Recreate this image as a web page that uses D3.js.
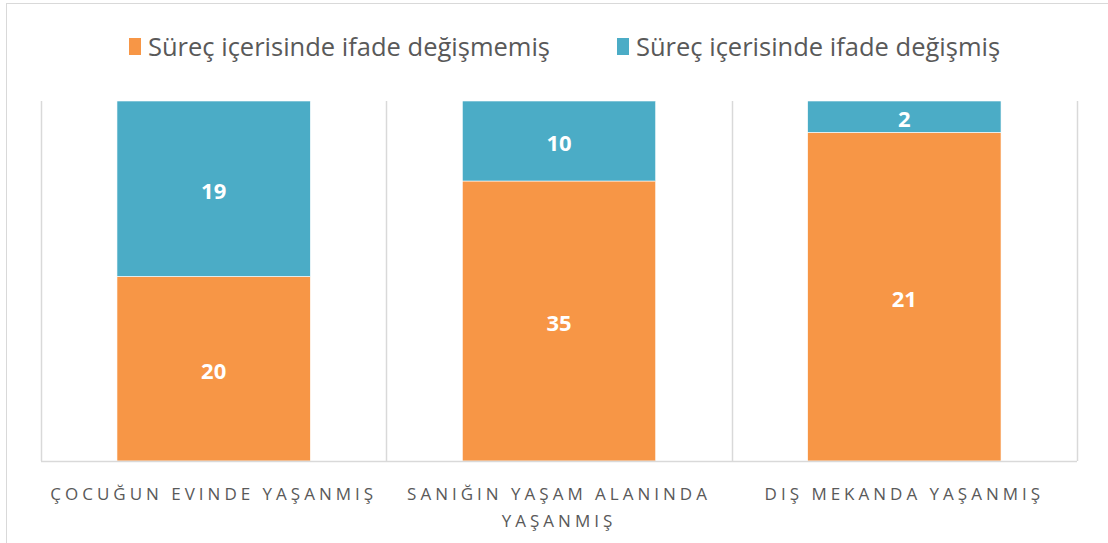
<!DOCTYPE html>
<html>
<head>
<meta charset="utf-8">
<script src="https://cdn.jsdelivr.net/npm/d3@7"></script>
<style>
  body { margin: 0; background: #fff; }
  svg text { font-family: "Open Sans", "Noto Sans", sans-serif; }
</style>
</head>
<body>
<svg id="chart" width="1108" height="543"></svg>
<script>
// data
var categories = ["ÇOCUĞUN EVINDE YAŞANMIŞ", "SANIĞIN YAŞAM ALANINDA YAŞANMIŞ", "DIŞ MEKANDA YAŞANMIŞ"];
var labelLines = [["ÇOCUĞUN EVINDE YAŞANMIŞ"], ["SANIĞIN YAŞAM ALANINDA", "YAŞANMIŞ"], ["DIŞ MEKANDA YAŞANMIŞ"]];
var seriesNames = ["Süreç içerisinde ifade değişmemiş", "Süreç içerisinde ifade değişmiş"];
var unchanged = [20, 35, 21];
var changed = [19, 10, 2];
var colors = ["#F79646", "#4BACC6"];

var svg = d3.select("#chart");

// outer chart border (partially cropped in the reference)
svg.append("rect")
  .attr("x", 6.5).attr("y", 3.5)
  .attr("width", 1200).attr("height", 600)
  .attr("fill", "none").attr("stroke", "#d9d9d9");

var margin = {left: 41, right: 31, top: 101, bottom: 82};
var width = 1108 - margin.left - margin.right,
    height = 543 - margin.top - margin.bottom;

var g = svg.append("g").attr("transform", "translate(" + margin.left + "," + margin.top + ")");

var x = d3.scaleBand().domain(categories).range([0, width]).paddingInner(0).paddingOuter(0);
var y = d3.scaleLinear().domain([0, 1]).range([height, 0]);

var rows = categories.map(function(c, i) {
  var tot = unchanged[i] + changed[i];
  return {cat: c, a: unchanged[i] / tot, b: changed[i] / tot, va: unchanged[i], vb: changed[i]};
});

// vertical category separators
var seps = d3.range(categories.length + 1);
g.selectAll(".sep").data(seps).enter().append("line")
  .attr("x1", function(d) { return Math.round(d * x.step()) + 0.5; })
  .attr("x2", function(d) { return Math.round(d * x.step()) + 0.5; })
  .attr("y1", 0).attr("y2", height)
  .attr("stroke", "#d9d9d9").attr("stroke-width", 1.5);

var bw = x.bandwidth() * 0.56;
var off = (x.bandwidth() - bw) / 2;

var stack = d3.stack().keys(["a", "b"])(rows);

stack.forEach(function(layer, li) {
  g.selectAll(".bar" + li).data(layer).enter().append("rect")
    .attr("x", function(d) { return x(d.data.cat) + off; })
    .attr("y", function(d) { return y(d[1]); })
    .attr("width", bw)
    .attr("height", function(d) { return y(d[0]) - y(d[1]); })
    .attr("fill", colors[li])
    .attr("stroke", "#fff").attr("stroke-width", 0.6);

  g.selectAll(".lab" + li).data(layer).enter().append("text")
    .attr("x", function(d) { return x(d.data.cat) + x.bandwidth() / 2; })
    .attr("y", function(d) { return (y(d[0]) + y(d[1])) / 2 + 2; })
    .attr("dy", "0.36em")
    .attr("text-anchor", "middle")
    .attr("fill", "#fff")
    .attr("font-weight", "bold")
    .attr("font-size", 22)
    .text(function(d) { return li === 0 ? d.data.va : d.data.vb; });
});

// bottom axis line
g.append("line")
  .attr("x1", 0).attr("x2", width)
  .attr("y1", height + 0.5).attr("y2", height + 0.5)
  .attr("stroke", "#d9d9d9").attr("stroke-width", 1.5);

// category labels
categories.forEach(function(c, i) {
  var t = g.append("text")
    .attr("x", x(c) + x.bandwidth() / 2)
    .attr("y", height + 39)
    .attr("text-anchor", "middle")
    .attr("fill", "#595959")
    .attr("font-size", 17)
    .attr("letter-spacing", "4px");
  labelLines[i].forEach(function(line, k) {
    t.append("tspan")
      .attr("x", x(c) + x.bandwidth() / 2)
      .attr("dy", k === 0 ? 0 : 27)
      .text(line);
  });
});

// legend
var legendX = [129, 617];
seriesNames.forEach(function(s, i) {
  svg.append("rect")
    .attr("x", legendX[i]).attr("y", 38)
    .attr("width", 12).attr("height", 17)
    .attr("fill", colors[i]);
  svg.append("text")
    .attr("x", legendX[i] + 19).attr("y", 56)
    .attr("fill", "#595959")
    .attr("font-size", 25.5)
    .text(s);
});
</script>
</body>
</html>
